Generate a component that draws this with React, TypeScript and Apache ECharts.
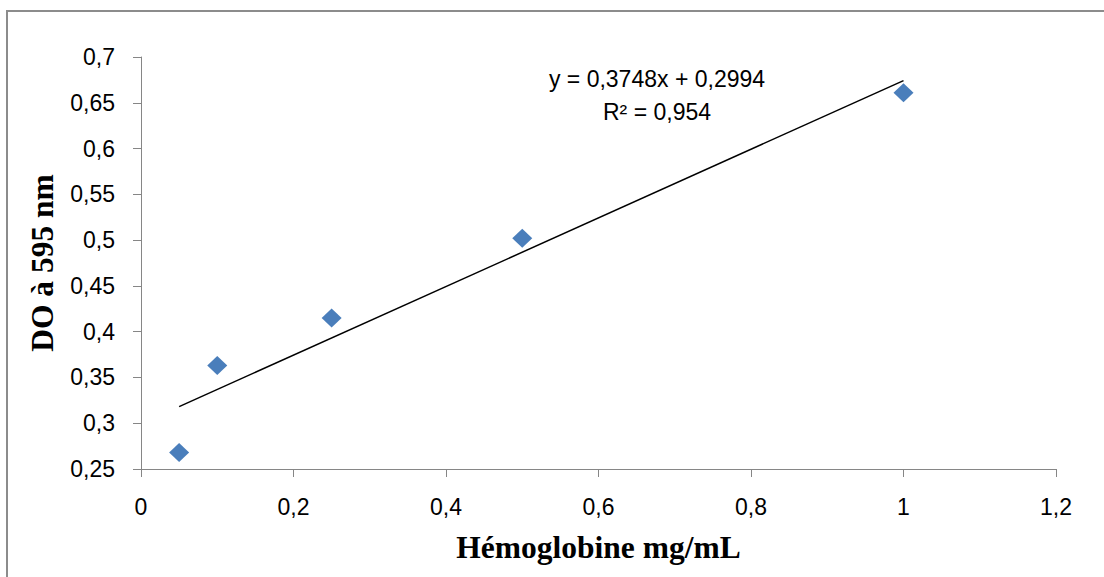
import React, { useEffect, useRef } from "react";
import * as echarts from "echarts";

const xValues = [0.05, 0.1, 0.25, 0.5, 1];
const yValues = [0.268, 0.363, 0.415, 0.502, 0.661];
const trendX = [0.05, 1];
const slope = 0.3748;
const intercept = 0.2994;
const equationLines = ["y = 0,3748x + 0,2994", "R² = 0,954"];
const xTitle = "Hémoglobine mg/mL";
const yTitle = "DO à 595 nm";

const fmt = (v: number) => String(Math.round(v * 100) / 100).replace(".", ",");

export default function App() {
  const ref = useRef<HTMLDivElement>(null);
  useEffect(() => {
    if (!ref.current) return;
    const chart = echarts.init(ref.current, null, { renderer: "svg" });
    const axisLine = { show: true, lineStyle: { color: "#868686", width: 1 } };
    const tickFont = { fontFamily: "Liberation Sans", fontSize: 23, color: "#000" };
    const titleFont = { fontFamily: "Liberation Serif", fontWeight: "bold" as const, fontSize: 31.5, color: "#000" };
    chart.setOption({
      animation: false,
      backgroundColor: "#fff",
      grid: { left: 141, right: 48, top: 57, bottom: 108 },
      xAxis: {
        type: "value",
        min: 0,
        max: 1.2,
        interval: 0.2,
        axisLine,
        axisTick: { show: true, inside: false, length: 8, lineStyle: { color: "#868686" } },
        splitLine: { show: false },
        axisLabel: { ...tickFont, margin: 26, formatter: fmt },
        name: xTitle,
        nameLocation: "middle",
        nameGap: 62,
        nameTextStyle: titleFont,
      },
      yAxis: {
        type: "value",
        min: 0.25,
        max: 0.7,
        interval: 0.05,
        axisLine,
        axisTick: { show: true, inside: false, length: 8, lineStyle: { color: "#868686" } },
        splitLine: { show: false },
        axisLabel: { ...tickFont, margin: 26, formatter: fmt },
        name: yTitle,
        nameLocation: "middle",
        nameGap: 83,
        nameRotate: 90,
        nameTextStyle: titleFont,
      },
      series: [
        {
          type: "line",
          data: trendX.map((x) => [x, slope * x + intercept]),
          symbol: "none",
          lineStyle: { color: "#000", width: 1.5 },
          silent: true,
          z: 1,
        },
        {
          type: "scatter",
          data: xValues.map((x, i) => [x, yValues[i]]),
          symbol: "diamond",
          symbolSize: [20, 19],
          itemStyle: { color: "#4a7ebb", opacity: 1 },
          z: 2,
        },
      ],
      graphic: [
        {
          type: "rect",
          shape: { x: 7, y: 11, width: 1200, height: 700 },
          style: { fill: "none", stroke: "#8c8c8c", lineWidth: 2 },
          silent: true,
        },
        {
          type: "text",
          x: 657,
          y: 79,
          style: { text: equationLines[0], ...tickFont, fill: "#000", align: "center", verticalAlign: "middle" },
        },
        {
          type: "text",
          x: 657,
          y: 112,
          style: { text: equationLines[1], ...tickFont, fill: "#000", align: "center", verticalAlign: "middle" },
        },
      ],
    });
    return () => chart.dispose();
  }, []);
  return (
    <div
      ref={ref}
      style={{ position: "absolute", left: 0, top: 0, width: 1104, height: 577 }}
    />
  );
}
